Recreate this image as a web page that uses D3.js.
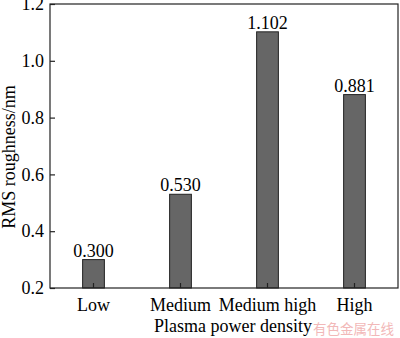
<!DOCTYPE html>
<html><head><meta charset="utf-8">
<script src="https://cdn.jsdelivr.net/npm/d3@7"></script>
<style>body{margin:0;background:#fff}svg{display:block}
.serif{font-family:"Liberation Serif","Times New Roman",Times,"DejaVu Serif",serif;}
</style>
</head><body>
<script>
const categories = ["Low", "Medium", "Medium high", "High"];
const values = [0.300, 0.530, 1.102, 0.881];
const valueLabels = ["0.300", "0.530", "1.102", "0.881"];
const yTicks = [0.2, 0.4, 0.6, 0.8, 1.0, 1.2];
const xTitle = "Plasma power density";
const yTitle = "RMS roughness/nm";
const watermark = "有色金属在线";

const W = 400, H = 338;
const m = {l: 50, r: 2, t: 4, b: 50};
const FS = 18;
const svg = d3.select("body").append("svg").attr("width", W).attr("height", H);
const x = d3.scaleBand().domain(categories).range([m.l, W - m.r]).paddingInner(0.75).paddingOuter(0.375);
const y = d3.scaleLinear().domain([0.2, 1.2]).range([H - m.b, m.t]);

// bars
svg.selectAll("rect.bar").data(values).join("rect")
  .attr("class", "bar")
  .attr("x", (d, i) => x(categories[i]))
  .attr("y", d => y(d))
  .attr("width", x.bandwidth())
  .attr("height", d => y(0.2) - y(d))
  .attr("fill", "#666666").attr("stroke", "#222").attr("stroke-width", 1);

// value labels
svg.selectAll("text.val").data(values).join("text")
  .attr("class", "val serif")
  .attr("x", (d, i) => x(categories[i]) + x.bandwidth() / 2)
  .attr("y", d => y(d) - 3)
  .attr("text-anchor", "middle").attr("font-size", FS).attr("fill", "#000")
  .text((d, i) => valueLabels[i]);

// frame
svg.append("rect").attr("x", m.l).attr("y", m.t).attr("width", W - m.r - m.l).attr("height", H - m.b - m.t)
  .attr("fill", "none").attr("stroke", "#222").attr("stroke-width", 1.2);

// y axis
const yAxis = svg.append("g").attr("transform", `translate(${m.l},0)`)
  .call(d3.axisLeft(y).tickValues(yTicks).tickFormat(d3.format(".1f")).tickSizeInner(-5).tickSizeOuter(0).tickPadding(6));
yAxis.attr("font-family", null);
yAxis.select(".domain").remove();
yAxis.selectAll("line").attr("stroke", "#222").attr("stroke-width", 1.2);
yAxis.selectAll("text").attr("class", "serif").attr("font-size", FS).attr("fill", "#000");

// x axis
const xAxis = svg.append("g").attr("transform", `translate(0,${H - m.b})`)
  .call(d3.axisBottom(x).tickSizeInner(-5).tickSizeOuter(0).tickPadding(10));
xAxis.attr("font-family", null);
xAxis.select(".domain").remove();
xAxis.selectAll("line").attr("stroke", "#222").attr("stroke-width", 1.2);
xAxis.selectAll("text").attr("class", "serif").attr("font-size", FS).attr("fill", "#000");

// titles
svg.append("text").attr("class", "serif").attr("x", 233).attr("y", 332).attr("text-anchor", "middle")
  .attr("font-size", FS).attr("fill", "#000").text(xTitle);
svg.append("text").attr("class", "serif").attr("transform", "translate(15,157) rotate(-90)").attr("text-anchor", "middle")
  .attr("font-size", FS).attr("fill", "#000").text(yTitle);

// watermark
svg.append("text").attr("x", 394).attr("y", 334).attr("text-anchor", "end")
  .attr("font-family", "'Noto Sans CJK SC',sans-serif").attr("font-size", 13.5).attr("fill", "#f2b8b8").text(watermark);
</script>
</body></html>
